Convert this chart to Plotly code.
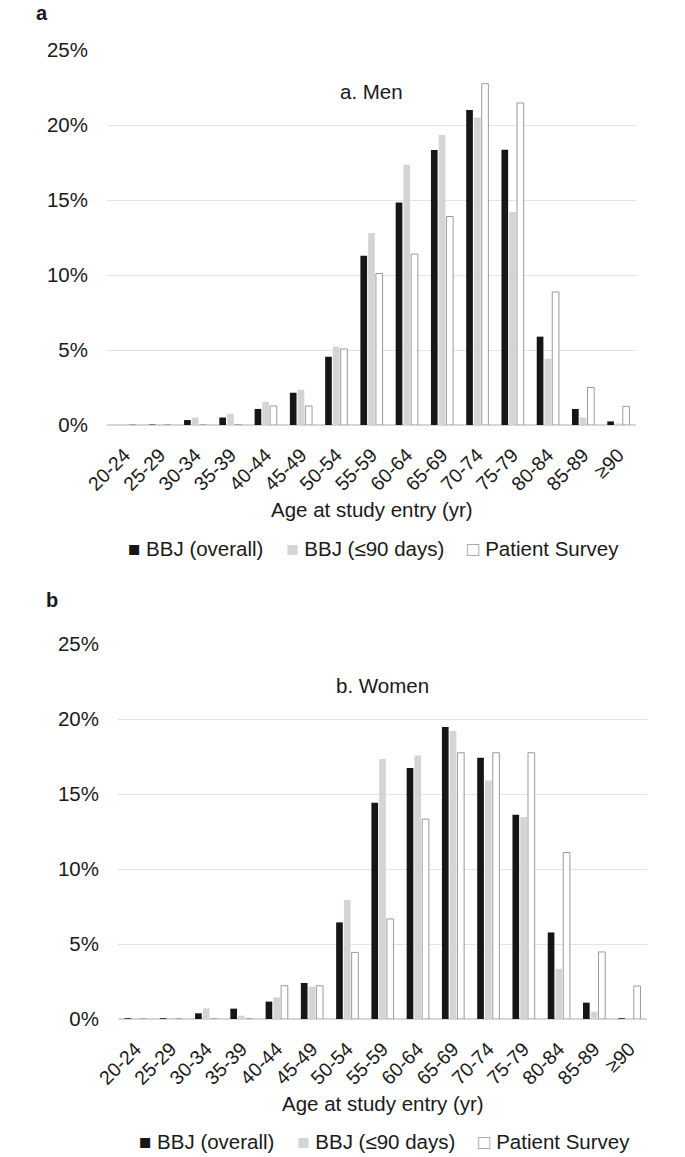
import plotly.graph_objects as go

age_groups = ["20-24", "25-29", "30-34", "35-39", "40-44", "45-49", "50-54", "55-59",
              "60-64", "65-69", "70-74", "75-79", "80-84", "85-89", "≥90"]

men_bbj_overall = [0.0, 0.03, 0.33, 0.5, 1.07, 2.15, 4.55, 11.29, 14.84, 18.33, 21.0, 18.35, 5.89, 1.07, 0.24]
men_bbj_90days = [0.0, 0.03, 0.5, 0.75, 1.55, 2.35, 5.22, 12.8, 17.35, 19.33, 20.5, 14.2, 4.42, 0.51, 0.1]
men_survey = [0.0, 0.0, 0.0, 0.0, 1.27, 1.27, 5.07, 10.1, 11.4, 13.9, 22.75, 21.47, 8.87, 2.5, 1.24]

women_bbj_overall = [0.05, 0.05, 0.38, 0.69, 1.16, 2.4, 6.44, 14.42, 16.73, 19.47, 17.42, 13.62, 5.77, 1.09, 0.05]
women_bbj_90days = [0.0, 0.0, 0.71, 0.22, 1.44, 2.16, 7.93, 17.33, 17.57, 19.2, 15.9, 13.47, 3.35, 0.49, 0.0]
women_survey = [0.0, 0.0, 0.0, 0.0, 2.22, 2.22, 4.44, 6.67, 13.33, 17.75, 17.75, 17.75, 11.1, 4.47, 2.2]

series_names = ["BBJ (overall)", "BBJ (≤90 days)", "Patient Survey"]
y_ticks = [0, 5, 10, 15, 20, 25]
y_tick_text = ["0%", "5%", "10%", "15%", "20%", "25%"]

FONT = "Liberation Sans, Arial, Helvetica, sans-serif"
FS = 20.5
FS_XTICK = 19.5
TXT = "#1a1a1a"
fills = ["#161616", "#d4d4d4", "#ffffff"]
outline = ["#161616", "#d4d4d4", "#9a9a9a"]
outline_w = [0, 0, 1]
legend_glyph = ["■", "■", "□"]
legend_glyph_color = ["#161616", "#d4d4d4", "#9a9a9a"]

fig = go.Figure()
panels = [
    ([men_bbj_overall, men_bbj_90days, men_survey], "x", "y"),
    ([women_bbj_overall, women_bbj_90days, women_survey], "x2", "y2"),
]
for data, xa, ya in panels:
    for i, vals in enumerate(data):
        fig.add_trace(go.Bar(
            x=age_groups, y=vals, name=series_names[i],
            marker=dict(color=fills[i], line=dict(color=outline[i], width=outline_w[i])),
            xaxis=xa, yaxis=ya, showlegend=False, hoverinfo="skip",
        ))

W, H = 685, 1157
L, R, T, B = 107, 38, 50, 138
ph = H - T - B  # 969
pw = W - L - R  # 540


def py(p):
    return (H - B - p) / ph


def px(p):
    return (p - L) / pw


axis_x = dict(
    type="category", showgrid=False, showline=False, zeroline=False,
    tickangle=-45, tickfont=dict(family=FONT, size=FS_XTICK, color=TXT),
    ticks="", ticklen=0, ticklabelstandoff=14,
)
axis_y = dict(
    range=[0, 25], tickvals=y_ticks, ticktext=y_tick_text,
    showgrid=True, gridcolor="#e3e3e3", gridwidth=1,
    zeroline=True, zerolinecolor="#d6d6d6", zerolinewidth=1.5,
    showline=False, ticks="", ticklabelstandoff=18,
    tickfont=dict(family=FONT, size=FS, color=TXT),
)

fig.update_layout(
    width=W, height=H,
    margin=dict(l=L, r=R, t=T, b=B),
    paper_bgcolor="white", plot_bgcolor="white",
    barmode="group", bargap=0.34, bargroupgap=0.14,
    font=dict(family=FONT, color=TXT),
    xaxis=dict(domain=[0, px(636)], anchor="y", **axis_x),
    yaxis=dict(domain=[py(425), 1], anchor="x", **axis_y),
    xaxis2=dict(domain=[px(118), 1], anchor="y2", **axis_x),
    yaxis2=dict(domain=[0, (1019 - 644) / ph], anchor="x2", **axis_y),
    showlegend=False,
)


def legend_text():
    parts = []
    for i, name in enumerate(series_names):
        parts.append('<span style="color:%s">%s</span>&nbsp;%s'
                     % (legend_glyph_color[i], legend_glyph[i], name))
    return "&nbsp;&nbsp;&nbsp;&nbsp;".join(parts)


def ann(text, x, y, size=FS, bold=False, yanchor="middle"):
    return dict(text=("<b>%s</b>" % text) if bold else text,
                x=px(x), y=py(y), xref="paper", yref="paper",
                xanchor="center", yanchor=yanchor, showarrow=False,
                font=dict(family=FONT, size=size, color=TXT))


annotations = [
    ann("a", 41.5, 0, size=20, bold=True, yanchor="top"),
    ann("b", 52, 600, size=20, bold=True),
    ann("a. Men", 371.5, 92),
    ann("b. Women", 382.5, 685),
    ann("Age at study entry (yr)", 371.5, 510),
    ann("Age at study entry (yr)", 382.5, 1103),
    ann(legend_text(), 373, 548),
    ann(legend_text(), 384, 1141),
]
fig.update_layout(annotations=annotations)

fig.write_html(
    "out.html",
    config={"displayModeBar": False, "staticPlot": True},
    post_script="document.body.style.margin='0';document.body.style.padding='0';"
                "document.documentElement.style.overflow='hidden';",
)
